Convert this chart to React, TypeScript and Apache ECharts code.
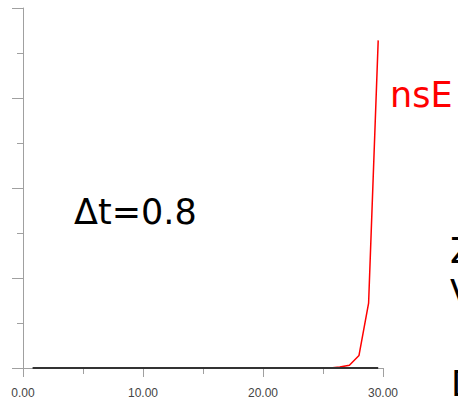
import React, { useEffect, useRef } from "react";
import * as echarts from "echarts";

const blackX = [0.8, 29.6];
const blackY = [0, 0];
const redX = [25.6, 26.4, 27.2, 28.0, 28.8, 29.6];
const redY = [0, 0.01, 0.03, 0.14, 0.72, 3.64];
const xTicks = [0, 10, 20, 30];
const labelNsE = "nsE";
const labelDt = "Δt=0.8";
const edgeLetters = ["Z", "V", "D"];

export default function App() {
  const ref = useRef<HTMLDivElement>(null);
  useEffect(() => {
    const chart = echarts.init(ref.current!, undefined, { renderer: "svg" });
    const font = '35px "DejaVu Sans"';
    chart.setOption({
      animation: false,
      grid: { left: 23, right: 75, top: 8, bottom: 32 },
      xAxis: {
        type: "value",
        min: xTicks[0],
        max: xTicks[xTicks.length - 1],
        interval: 10,
        axisLine: { onZero: false, lineStyle: { color: "#a0a0a0", width: 1 } },
        axisTick: { show: true, length: 9, lineStyle: { color: "#a0a0a0" } },
        minorTick: { show: true, splitNumber: 2, length: 6, lineStyle: { color: "#a0a0a0" } },
        splitLine: { show: false },
        axisLabel: {
          formatter: (v: number) => v.toFixed(2),
          color: "#444",
          fontSize: 12,
          fontFamily: "Liberation Sans",
          margin: 19,
        },
      },
      yAxis: {
        type: "value",
        min: 0,
        max: 4,
        interval: 1,
        axisLine: { show: true, lineStyle: { color: "#a0a0a0", width: 1 } },
        axisTick: { show: true, length: 11, lineStyle: { color: "#a0a0a0" } },
        minorTick: { show: true, splitNumber: 2, length: 6, lineStyle: { color: "#a0a0a0" } },
        splitLine: { show: false },
        axisLabel: { show: false },
      },
      series: [
        {
          type: "line",
          data: redX.map((x, i) => [x, redY[i]]),
          showSymbol: false,
          lineStyle: { color: "#ff0000", width: 1.5 },
          z: 2,
        },
        {
          type: "line",
          data: blackX.map((x, i) => [x, blackY[i]]),
          showSymbol: false,
          lineStyle: { color: "#333333", width: 2 },
          z: 3,
        },
      ],
      graphic: [
        { type: "text", left: 390, top: 77, style: { text: labelNsE, fill: "#ff0000", font } },
        { type: "text", left: 74, top: 194, style: { text: labelDt, fill: "#000", font } },
        { type: "text", left: 450, top: 233, style: { text: edgeLetters[0], fill: "#000", font } },
        { type: "text", left: 450, top: 275, style: { text: edgeLetters[1], fill: "#000", font } },
        { type: "text", left: 451, top: 366, style: { text: edgeLetters[2], fill: "#000", font } },
      ],
    });
    return () => chart.dispose();
  }, []);
  return <div ref={ref} style={{ width: 458, height: 400, position: "absolute", left: 0, top: 0 }} />;
}
